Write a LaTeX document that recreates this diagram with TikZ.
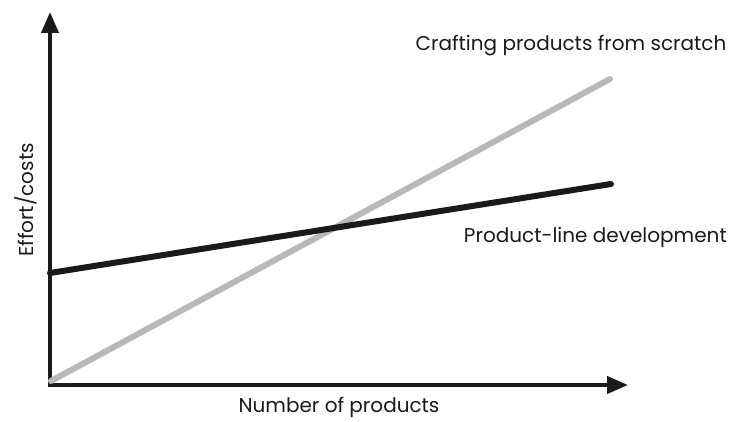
\documentclass[tikz,border=0pt]{standalone}
\usepackage{fontspec}
\setmainfont{Poppins}
\usetikzlibrary{arrows.meta}
\tikzset{>={Triangle[width=17pt,length=21pt]}}
\definecolor{scratchgray}{HTML}{B8B8B8}
\definecolor{linedark}{HTML}{1A1A1A}
\tikzset{
  axis/.style={line width=4pt,draw=linedark,<->},
  curve/.style={line width=6pt,line cap=round},
  label/.style={font=\fontsize{20}{24}\selectfont,text=linedark,inner sep=0pt}
}

\begin{document}
\begin{tikzpicture}[x=1pt,y=-1pt]
  \useasboundingbox (0,0) rectangle (732,422);

  \coordinate (O) at (50,385);
  \coordinate (ytop) at (50,12);
  \coordinate (xend) at (628,385);

  \draw[axis](ytop)--(O)--(xend);

  % cost curves
  \coordinate (gs) at (51,381);
  \coordinate (ge) at (610,79);
  \coordinate (bs) at (50,273);
  \coordinate (be) at (611,184);
  \draw[curve,draw=scratchgray](gs)--(ge);
  \draw[curve,draw=linedark](bs)--(be);

  \node[label,anchor=base] (scratch) at (571,51) {Crafting products from scratch};
  \node[label,anchor=base east] (pld) at (727,243) {Product-line development};
  \node[label,anchor=base] (xlab) at (339,413) {Number of products};
  \node[label,anchor=base,rotate=90] (ylab) at (33,200) {Effort/costs};
\end{tikzpicture}
\end{document}
